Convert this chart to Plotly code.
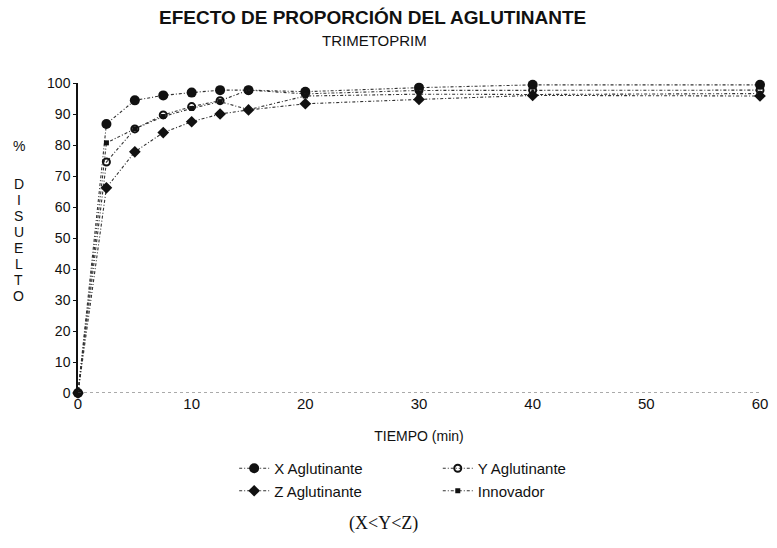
import plotly.graph_objects as go

tiempo = [0, 2.5, 5, 7.5, 10, 12.5, 15, 20, 30, 40, 60]
x_aglut = [0, 86.8, 94.4, 96.0, 96.9, 97.7, 97.7, 97.2, 98.5, 99.4, 99.4]
y_aglut = [0, 74.5, 85.2, 89.7, 92.4, 94.3, 97.7, 96.5, 97.6, 97.7, 97.7]
z_aglut = [0, 66.2, 77.8, 84.0, 87.5, 90.0, 91.3, 93.3, 94.7, 96.0, 95.8]
innovador = [0, 80.7, 85.2, 89.2, 91.8, 94.0, 91.4, 95.8, 96.4, 96.3, 96.6]

y_letters = ["%", "D", "I", "S", "U", "E", "L", "T", "O"]
x_ticks = [0, 10, 20, 30, 40, 50, 60]
y_ticks = [0, 10, 20, 30, 40, 50, 60, 70, 80, 90, 100]

FONT = "Liberation Sans, Arial, sans-serif"
LC = "#333333"

W, H = 777, 548
ML, MR, MT, MB = 78, 9, 83, 155
PW, PH = W - ML - MR, H - MT - MB


def px(x, y):
    """pixel position -> paper coordinates"""
    return (x - ML) / PW, (H - MB - y) / PH


def label(text, x, y, size, family=FONT):
    xa, ya = px(x, y)
    return dict(text=text, x=xa, y=ya, xref="paper", yref="paper",
                xanchor="center", yanchor="middle", showarrow=False,
                font=dict(family=family, size=size, color="#111"))


fig = go.Figure()

series = [
    ("X Aglutinante", x_aglut, dict(symbol="circle", size=10, color="#111"), "legend"),
    ("Y Aglutinante", y_aglut, dict(symbol="circle-open", size=7, color="#111", line=dict(width=2)), "legend2"),
    ("Z Aglutinante", z_aglut, dict(symbol="diamond", size=9, color="#111"), "legend"),
    ("Innovador", innovador, dict(symbol="square", size=5, color="#111"), "legend2"),
]
for name, vals, mk, lg in series:
    fig.add_trace(go.Scatter(
        x=tiempo, y=vals, name=name, mode="lines+markers",
        line=dict(color=LC, width=1.1, dash="3px,2px,1px,2px"),
        marker=mk, legend=lg, cliponaxis=False,
    ))

# dotted x-axis baseline
fig.add_shape(type="line", xref="x domain", yref="y", x0=0, x1=1, y0=0, y1=0,
              line=dict(color="#555", width=1, dash="dot"))

annos = []
for i, ch in enumerate(y_letters):
    yy = 146 if i == 0 else 184 + (i - 1) * 16
    annos.append(label(ch, 18, yy, 14))

annos.append(label("<b>EFECTO DE PROPORCIÓN DEL AGLUTINANTE</b>", 376, 18, 19))
annos.append(label("TRIMETOPRIM", 378, 40, 15))
annos.append(label("(X&lt;Y&lt;Z)", 387, 523, 18,
                   family="Liberation Serif, Times New Roman, serif"))

l1x, l1y = px(236, 452)
l2x, _ = px(442, 452)

fig.update_layout(
    width=W, height=H,
    margin=dict(l=ML, r=MR, t=MT, b=MB),
    paper_bgcolor="white", plot_bgcolor="white",
    font=dict(family=FONT, color="#111"),
    xaxis=dict(range=[0, 60], tickvals=x_ticks, showgrid=False, zeroline=False,
               showline=False, ticks="", tickfont=dict(size=15, family=FONT),
               title=dict(text="TIEMPO (min)", font=dict(size=14, family=FONT), standoff=20)),
    yaxis=dict(range=[0, 100], tickvals=y_ticks, showgrid=False, zeroline=False,
               showline=True, linecolor="#111", linewidth=1.5, ticks="outside",
               ticklen=3, tickcolor="#111", tickfont=dict(size=14, family=FONT)),
    legend=dict(x=l1x, y=l1y, xanchor="left", yanchor="top", itemwidth=30,
                font=dict(size=15, family=FONT), tracegroupgap=0, bgcolor="rgba(0,0,0,0)"),
    legend2=dict(x=l2x, y=l1y, xanchor="left", yanchor="top", itemwidth=30,
                 font=dict(size=15, family=FONT), tracegroupgap=0, bgcolor="rgba(0,0,0,0)"),
    annotations=annos,
)

fig.write_html("out.html")
